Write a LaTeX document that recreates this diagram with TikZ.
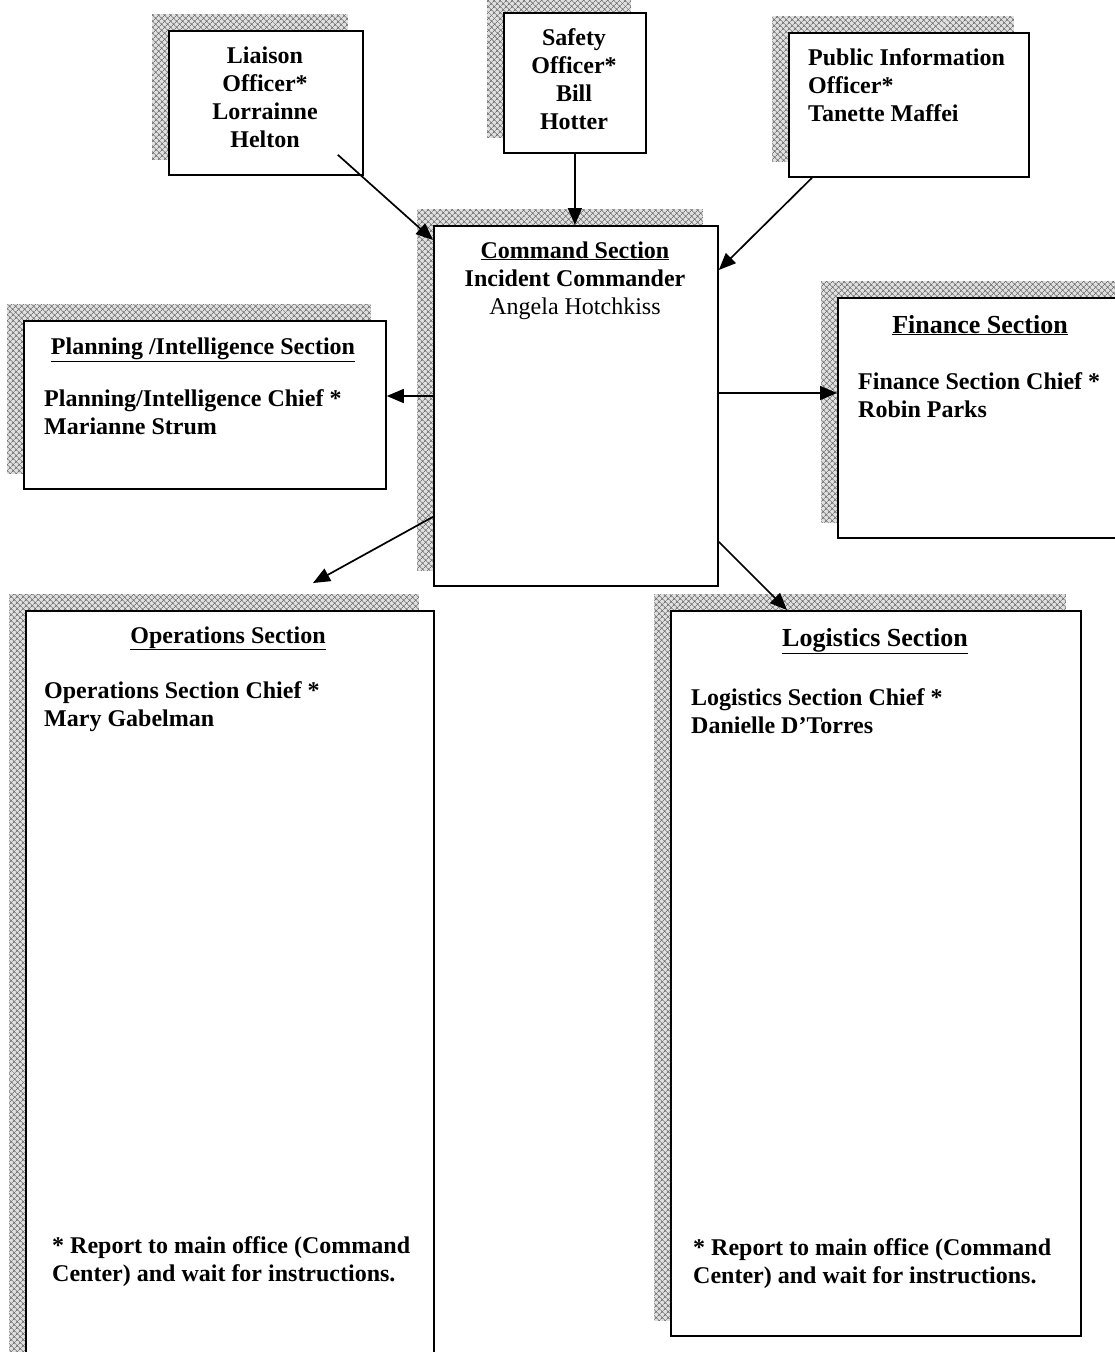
\documentclass[tikz,border=0pt]{standalone}
\usepackage{fontspec}
\setmainfont{Liberation Serif}
\usetikzlibrary{arrows.meta,patterns.meta,calc}
\pgfdeclarelayer{background}
\pgfsetlayers{background,main}
\tikzset{
  box/.style={draw=black, line width=1.8pt, fill=white, rectangle, inner sep=0pt, anchor=north west},
  shadowfill/.style={fill=black!12, postaction={pattern={Hatch[angle=45,distance=4pt,line width=0.8pt]}, pattern color=black!55}},
  conn/.style={line width=1.7pt, -{Triangle[length=17pt,width=14pt]}},
  txt/.style={font=\fontsize{24}{28}\selectfont\bfseries, inner sep=0pt},
  ctxt/.style={txt, align=center, anchor=base},
  ltxt/.style={txt, align=left, anchor=base west},
  bighead/.style={font=\fontsize{26}{28}\selectfont\bfseries, inner sep=0pt, anchor=base}
}
\begin{document}
\begin{tikzpicture}[x=1pt,y=-1pt]
\useasboundingbox (0,0) rectangle (1114,1352);
% boxes
\node[box, minimum width=194pt, minimum height=144pt] (liaison) at (168,30) {};
\node[box, minimum width=142pt, minimum height=140pt] (safety) at (503,12) {};
\node[box, minimum width=240pt, minimum height=144pt] (pubinfo) at (788,32) {};
\node[box, minimum width=284pt, minimum height=360pt] (cmd) at (433,225) {};
\node[box, minimum width=362pt, minimum height=168pt] (plan) at (23,320) {};
\node[box, minimum width=300pt, minimum height=240pt] (fin) at (837,297) {};
\node[box, minimum width=408pt, minimum height=780pt] (ops) at (25,610) {};
\node[box, minimum width=410pt, minimum height=725pt] (log) at (670,610) {};
% shadows
\begin{pgfonlayer}{background}
\foreach \n in {liaison,safety,pubinfo,cmd,plan,fin,ops,log}{
  \path[shadowfill] ($(\n.north west)+(-16,-16)$) rectangle ($(\n.south east)+(-16,-16)$);
}
\end{pgfonlayer}
% texts (base anchor = baseline of the last line)
\node[ctxt] (liaisontxt) at (265,147) {Liaison\\Officer*\\Lorrainne\\Helton};
\node[ctxt] (safetytxt) at (574,129) {Safety\\Officer*\\Bill\\Hotter};
\node[ltxt] (pubinfotxt) at (808,121) {Public Information\\Officer*\\Tanette Maffei};
\node[ctxt] (cmdtxt) at (575,314) {\underline{Command Section}\\Incident Commander\\{\mdseries Angela Hotchkiss}};
\node[ctxt] (planhead) at (203,354) {\underline{Planning /Intelligence Section}};
\node[ltxt] (plantxt) at (44,434) {Planning/Intelligence Chief *\\Marianne Strum};
\node[bighead] (finhead) at (980,333) {\underline{Finance Section}};
\node[ltxt] (fintxt) at (858,417) {Finance Section Chief *\\Robin Parks};
\node[ctxt] (opshead) at (228,643) {\underline{Operations Section}};
\node[ltxt] (opstxt) at (44,726) {Operations Section Chief *\\Mary Gabelman};
\node[ltxt] (opsnote) at (52,1281) {* Report to main office (Command\\Center) and wait for instructions.};
\node[bighead] (loghead) at (875,646) {\underline{Logistics Section}};
\node[ltxt] (logtxt) at (691,733) {Logistics Section Chief *\\Danielle D’Torres};
\node[ltxt] (lognote) at (693,1283) {* Report to main office (Command\\Center) and wait for instructions.};
% connectors
\draw[conn] ([shift={(-26pt,21pt)}]liaison.south east) -- ([yshift=-15pt]cmd.north west);
\draw[conn] (safety.south) -- (safety.south |- cmd.north);
\draw[conn] ([xshift=24pt]pubinfo.south west) -- ([yshift=-45pt]cmd.north east);
\draw[conn] ([yshift=-171pt]cmd.north west) -- ([yshift=-76pt]plan.north east);
\draw[conn] ([yshift=-168pt]cmd.north east) -- ([yshift=-96pt]fin.north west);
\draw[conn] ([yshift=70pt]cmd.south west) -- ([shift={(288pt,27pt)}]ops.north west);
\draw[conn] ([yshift=45pt]cmd.south east) -- ([xshift=117pt]log.north west);
\end{tikzpicture}
\end{document}
